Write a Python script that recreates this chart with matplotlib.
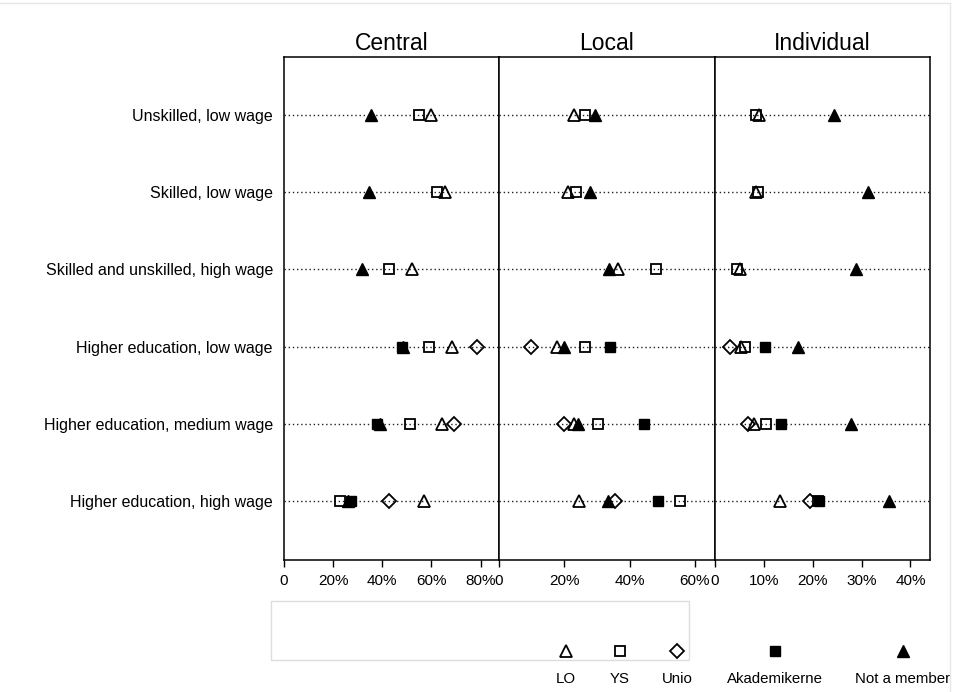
#----------------------------------------------------------------------------------------------------- #
# Modules
#----------------------------------------------------------------------------------------------------- #
import matplotlib
matplotlib.use('Agg')
import matplotlib.pyplot as plt
import numpy as np
from matplotlib.patches import Rectangle
from matplotlib.lines import Line2D
from matplotlib.ticker import FuncFormatter

plt.rcParams['font.family'] = ['Liberation Sans', 'DejaVu Sans']

#----------------------------------------------------------------------------------------------------- #
# Data (percent)
#----------------------------------------------------------------------------------------------------- #
nan = np.nan
categories = ['Unskilled, low wage', 'Skilled, low wage', 'Skilled and unskilled, high wage',
              'Higher education, low wage', 'Higher education, medium wage', 'Higher education, high wage']
panels = ['Central', 'Local', 'Individual']
series = ['LO', 'YS', 'Unio', 'Akademikerne', 'Not a member']

central_lo = [60.0, 65.4, 52.1, 68.4, 64.2, 57.1]
central_ys = [55.1, 62.4, 42.9, 58.9, 51.1, 22.6]
central_unio = [nan, nan, nan, 78.6, 69.1, 42.9]
central_akad = [nan, nan, nan, 48.2, 37.8, 27.2]
central_none = [35.5, 34.7, 31.8, 48.4, 39.2, 26.0]

local_lo = [23.1, 21.0, 36.5, 17.8, 22.9, 24.5]
local_ys = [26.3, 23.7, 48.2, 26.5, 30.4, 55.4]
local_unio = [nan, nan, nan, 9.7, 19.8, 35.5]
local_akad = [nan, nan, nan, 33.9, 44.4, 48.8]
local_none = [29.4, 27.8, 33.7, 19.9, 24.3, 33.3]

indiv_lo = [9.1, 8.3, 5.1, 5.3, 8.0, 13.3]
indiv_ys = [8.4, 8.9, 4.6, 6.1, 10.4, 21.0]
indiv_unio = [nan, nan, nan, 3.1, 6.8, 19.5]
indiv_akad = [nan, nan, nan, 10.2, 13.5, 21.2]
indiv_none = [24.4, 31.4, 28.8, 16.9, 27.9, 35.6]

panel_data = [
    [central_lo, central_ys, central_unio, central_akad, central_none],
    [local_lo, local_ys, local_unio, local_akad, local_none],
    [indiv_lo, indiv_ys, indiv_unio, indiv_akad, indiv_none],
]
panel_ticks = [[0, 20, 40, 60, 80], [0, 20, 40, 60], [0, 10, 20, 30, 40]]
panel_xmax = [87.5, 66.2, 44.0]

#----------------------------------------------------------------------------------------------------- #
# Styles
#----------------------------------------------------------------------------------------------------- #
marker_styles = [
    dict(marker='^', markerfacecolor='none', markeredgecolor='black', markersize=9, markeredgewidth=1.3),
    dict(marker='s', markerfacecolor='none', markeredgecolor='black', markersize=7.5, markeredgewidth=1.3),
    dict(marker='D', markerfacecolor='none', markeredgecolor='black', markersize=7.5, markeredgewidth=1.3),
    dict(marker='s', markerfacecolor='black', markeredgecolor='black', markersize=7.5, markeredgewidth=1.0),
    dict(marker='^', markerfacecolor='black', markeredgecolor='black', markersize=9, markeredgewidth=1.0),
]

W, H = 954, 692
fig = plt.figure(figsize=(W / 100, H / 100), dpi=100)

edges = [284, 499, 715, 930]
top_px, bottom_px = 57, 560
y_pos = np.arange(1, len(categories) + 1)


def pct(v, pos):
    return '0' if v == 0 else '%d%%' % v


for p, name in enumerate(panels):
    ax = fig.add_axes([edges[p] / W, 1 - bottom_px / H, (edges[p + 1] - edges[p]) / W, (bottom_px - top_px) / H])
    for y in y_pos:
        ax.axhline(y, color='#222222', lw=1.0, linestyle=(0, (1, 2)), zorder=1)
    for s, vals in enumerate(panel_data[p]):
        ax.plot(vals, y_pos, linestyle='none', zorder=3, **marker_styles[s])
    ax.set_xlim(0, panel_xmax[p])
    ax.set_ylim(6.76, 0.25)
    ax.set_xticks(panel_ticks[p])
    ax.xaxis.set_major_formatter(FuncFormatter(pct))
    ax.tick_params(axis='x', length=5, width=1, labelsize=11, pad=5, color='black')
    ax.set_title(name, fontsize=16.5, pad=5)
    for sp in ax.spines.values():
        sp.set_linewidth(1.1)
    if p == 0:
        ax.set_yticks(y_pos)
        ax.set_yticklabels(categories, fontsize=11.5)
        ax.tick_params(axis='y', length=0, pad=8)
    else:
        ax.set_yticks([])

#----------------------------------------------------------------------------------------------------- #
# Legend
#----------------------------------------------------------------------------------------------------- #
fig.add_artist(Rectangle((271 / W, 1 - 660 / H), (689 - 271) / W, (660 - 601) / H,
                         transform=fig.transFigure, fill=False, edgecolor='#dddddd', lw=1))
legend_x = [566, 620, 677, 775, 903]
leg_ax = fig.add_axes([0, 0, 1, 1], facecolor='none')
leg_ax.set_xlim(0, W)
leg_ax.set_ylim(H, 0)
leg_ax.axis('off')
for s, label in enumerate(series):
    leg_ax.plot([legend_x[s]], [651], linestyle='none', **marker_styles[s])
    leg_ax.text(legend_x[s], 679, label, ha='center', va='center', fontsize=10.8)

# faint outer frame
fig.add_artist(Line2D([0, 950 / W], [1 - 3 / H, 1 - 3 / H], transform=fig.transFigure, color='#e6e6e6', lw=1))
fig.add_artist(Line2D([950 / W, 950 / W], [0, 1 - 3 / H], transform=fig.transFigure, color='#e6e6e6', lw=1))

fig.savefig('out.png', dpi=100)
